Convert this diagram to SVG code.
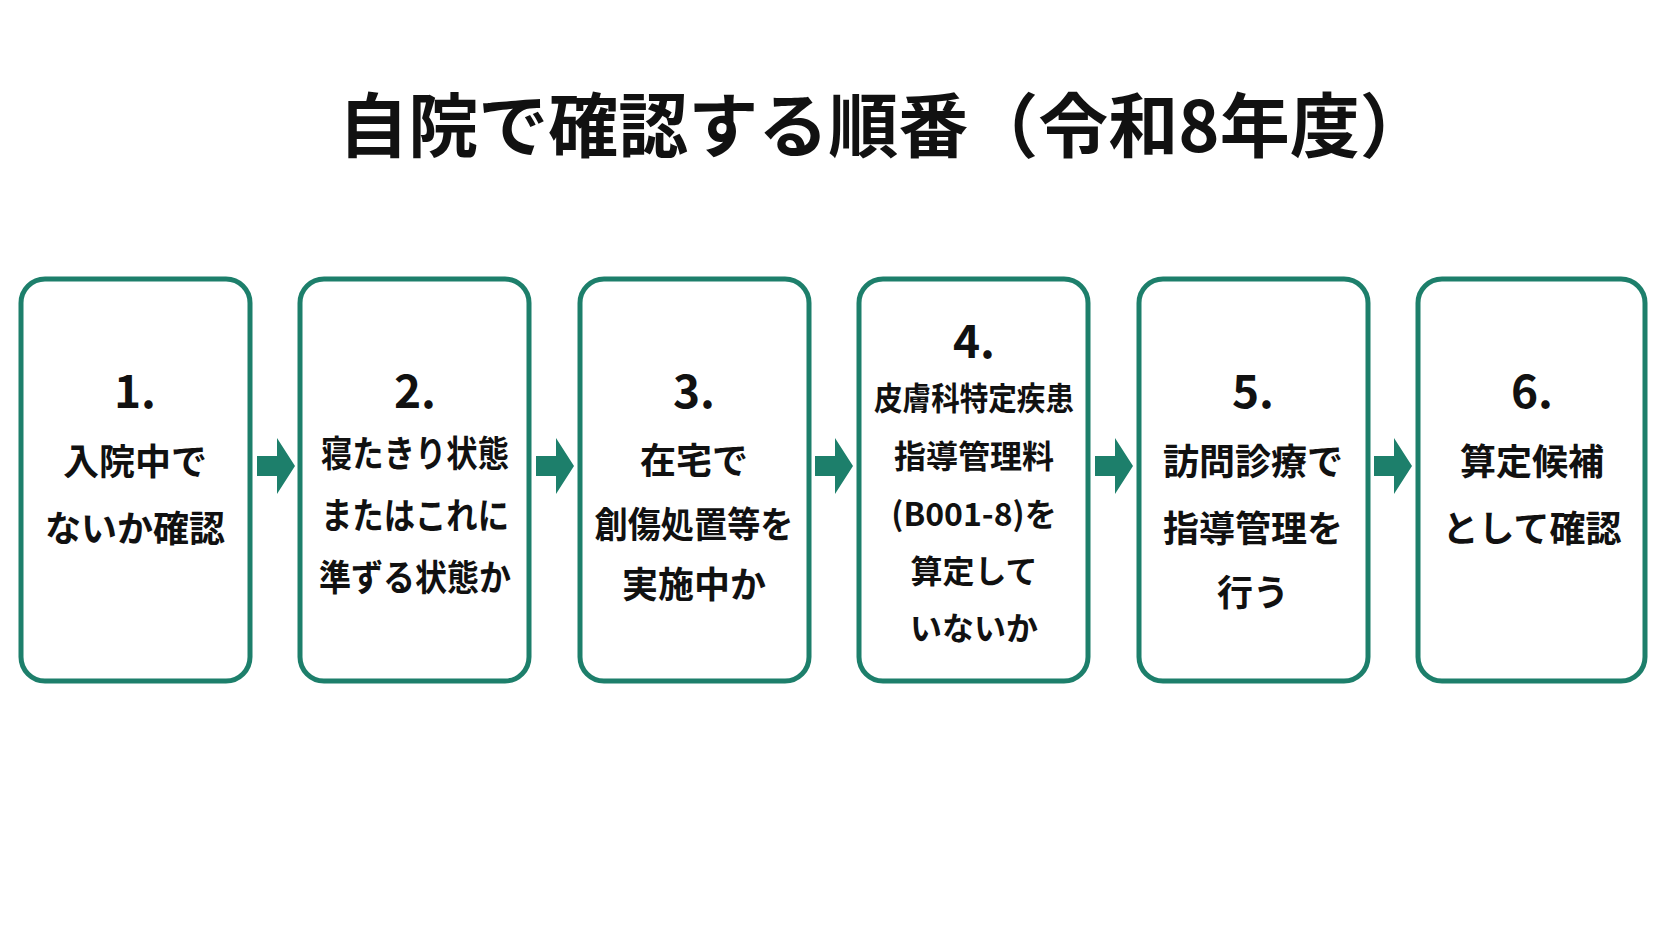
<svg xmlns="http://www.w3.org/2000/svg" width="1672" height="941" viewBox="0 0 1672 941">
<style>
.box{fill:#fff;stroke:#1d7f6b;stroke-width:5}
text{font-family:"Noto Sans CJK JP","Noto Sans",sans-serif;font-weight:700;fill:#111;text-anchor:middle}
.n{font-size:46px}
.t{font-size:36px}
.s{font-size:32px}
.arr{fill:#1d7f6b}
</style>
<rect width="1672" height="941" fill="#fff"/>
<text x="884" y="152" style="font-size:70px">自院で確認する順番（令和8年度）</text>
<g id="connectors">
<path class="arr" d="M257 456h20v-18l18 28-18 28v-18h-20z"/>
<path class="arr" d="M536 456h20v-18l18 28-18 28v-18h-20z"/>
<path class="arr" d="M815 456h20v-18l18 28-18 28v-18h-20z"/>
<path class="arr" d="M1095 456h20v-18l18 28-18 28v-18h-20z"/>
<path class="arr" d="M1374 456h20v-18l18 28-18 28v-18h-20z"/>
</g>
<g id="n1"><rect class="box" x="21" y="279" width="229" height="402" rx="24"/>
<text class="n" x="135" y="408">1.</text><text class="t" x="135" y="475">入院中で</text><text class="t" x="135" y="542">ないか確認</text></g>
<g id="n2"><rect class="box" x="300" y="279" width="229" height="402" rx="24"/>
<text class="n" x="415" y="408">2.</text><text class="t" x="415" y="467" textLength="188" lengthAdjust="spacingAndGlyphs">寝たきり状態</text><text class="t" x="415" y="529" textLength="188" lengthAdjust="spacingAndGlyphs">またはこれに</text><text class="t" x="415" y="591" textLength="192" lengthAdjust="spacingAndGlyphs">準ずる状態か</text></g>
<g id="n3"><rect class="box" x="580" y="279" width="229" height="402" rx="24"/>
<text class="n" x="694" y="408">3.</text><text class="t" x="694" y="474">在宅で</text><text class="t" x="694" y="538" textLength="199" lengthAdjust="spacingAndGlyphs">創傷処置等を</text><text class="t" x="694" y="598">実施中か</text></g>
<g id="n4"><rect class="box" x="859" y="279" width="229" height="402" rx="24"/>
<text class="n" x="974" y="358">4.</text><text class="s" x="974" y="410" textLength="200" lengthAdjust="spacingAndGlyphs">皮膚科特定疾患</text><text class="s" x="974" y="468">指導管理料</text><text class="s" x="974" y="526">(B001-8)を</text><text class="s" x="974" y="583">算定して</text><text class="s" x="974" y="640">いないか</text></g>
<g id="n5"><rect class="box" x="1139" y="279" width="229" height="402" rx="24"/>
<text class="n" x="1253" y="408">5.</text><text class="t" x="1253" y="475">訪問診療で</text><text class="t" x="1253" y="542">指導管理を</text><text class="t" x="1253" y="606">行う</text></g>
<g id="n6"><rect class="box" x="1418" y="279" width="227" height="402" rx="24"/>
<text class="n" x="1532" y="408">6.</text><text class="t" x="1532" y="475">算定候補</text><text class="t" x="1532" y="542">として確認</text></g>
</svg>
